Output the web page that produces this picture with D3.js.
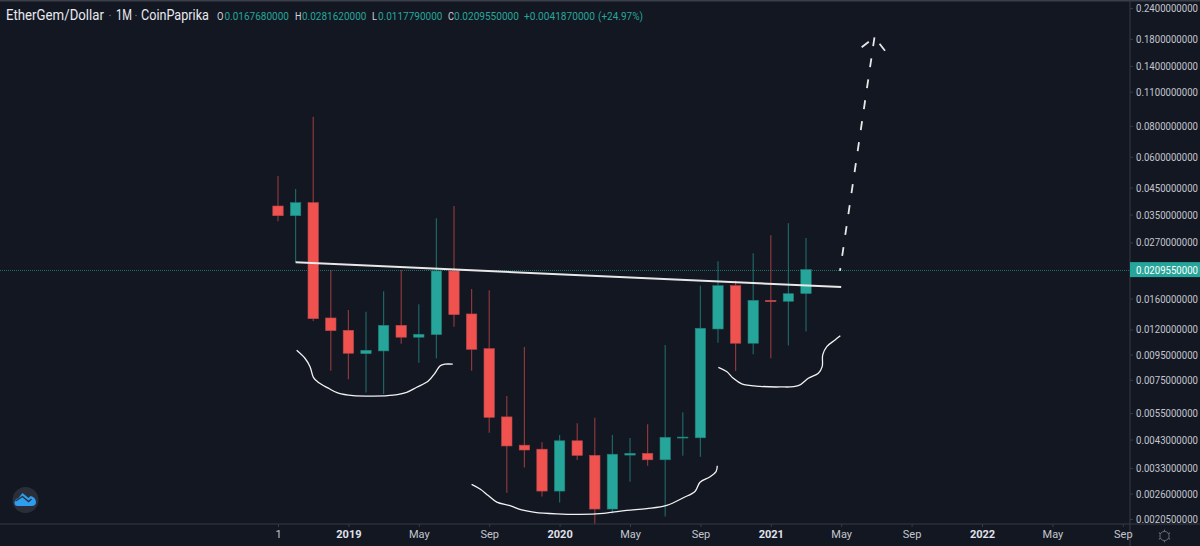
<!DOCTYPE html>
<html>
<head>
<meta charset="utf-8">
<script src="https://cdnjs.cloudflare.com/ajax/libs/d3/7.8.5/d3.min.js"></script>
<style>
html, body { margin: 0; padding: 0; background: #131722; overflow: hidden; }
svg { display: block; font-family: Roboto, sans-serif; }
</style>
</head>
<body>
<div id="plotDiv"></div>
<script>
// monthly candles, Sep 2018 to Mar 2021
var months = ["2018-09","2018-10","2018-11","2018-12","2019-01","2019-02","2019-03","2019-04","2019-05","2019-06","2019-07",
    "2019-08","2019-09","2019-10","2019-11","2019-12","2020-01","2020-02","2020-03","2020-04","2020-05","2020-06","2020-07",
    "2020-08","2020-09","2020-10","2020-11","2020-12","2021-01","2021-02","2021-03"];
var opens = [.03791,.03463,.03910,.01335,.01190,.00957,.00982,.01247,.01116,.01143,.02069,.01386,.01003,.00531,.00408,.00393,
    .00266,.00425,.00371,.00225,.00372,.00378,.00356,.00436,.00437,.01205,.01804,.01055,.01574,.01560,.016768];
var highs = [.05014,.04442,.08716,.02088,.01438,.01416,.01712,.02088,.01517,.03381,.03791,.01749,.01728,.00645,.01019,.00419,
    .00449,.00500,.00527,.00449,.00436,.00496,.01038,.00554,.01804,.02264,.01890,.02440,.02885,.03226,.028162];
var lows = [.03287,.02243,.01298,.00817,.00754,.00666,.00658,.01051,.00880,.00917,.01231,.00817,.00458,.00262,.00331,.00253,
    .00239,.00355,.00196,.00216,.00290,.00337,.00210,.00370,.00366,.01061,.00815,.00952,.00917,.01032,.011779];
var closes = [.03463,.03910,.01326,.01186,.00961,.00988,.01247,.01116,.01147,.02069,.01377,.00997,.00529,.00405,.00390,.00266,
    .00425,.00371,.00225,.00375,.00378,.00356,.00439,.00440,.01213,.01804,.01055,.01574,.01554,.01674,.020955];

var lastPrice = 0.020955;

var priceTicks = [0.24,0.18,0.14,0.11,0.08,0.06,0.045,0.035,0.027,0.016,0.012,0.0095,0.0075,0.0055,0.0043,0.0033,0.0026,0.00205];
var timeTicks = [0,4,8,12,16,20,24,28,32,36,40,44,48];
var timeLabels = ["1","2019","May","Sep","2020","May","Sep","2021","May","Sep","2022","May","Sep"];

// drawings on top of the chart, [month index, price]
var trendLine = [[1,.02243],[32,.01782]];
var leftCurve = [[1.06,.00988],[1.53,.00917],[1.82,.00848],[2.01,.00768],[2.30,.00731],[2.86,.00694],[3.43,.00662],[4.28,.00647],
    [5.41,.00645],[6.55,.00651],[7.31,.00668],[7.88,.00700],[8.54,.00742],[8.92,.00798],[9.20,.00854],[9.49,.00868],[9.93,.00868]];
var midCurve = [[11,.00283],[11.48,.00271],[11.95,.00255],[12.43,.00240],[13.18,.00232],[13.85,.00223],[14.6,.00218],[15.84,.00215],
    [17.16,.00214],[18.48,.00216],[19.81,.00222],[20.95,.00226],[22.09,.00233],[23.03,.00250],[23.69,.00265],[23.98,.00289],
    [24.55,.00304],[24.89,.00319],[24.96,.00337]];
var rightCurve = [[25.02,.00843],[25.49,.00810],[25.87,.00761],[26.35,.00722],[27.39,.00706],[28.52,.00702],[29.56,.00710],
    [30.13,.00761],[30.70,.00798],[30.92,.00848],[30.95,.00946],[31.18,.01022],[31.65,.01088],[31.95,.01132]];
var projection = [[33.89,.1826],[31.93,.02069]];
var arrowLeft = [[33.89,.1826],[33.16,.1664]];
var arrowRight = [[33.89,.1826],[34.49,.1612]];

// legend pieces: text, left edge, width
var legendText = ["EtherGem/Dollar","1M","CoinPaprika","O","0.0167680000","H","0.0281620000","L","0.0117790000","C","0.0209550000","+0.0041870000","(+24.97%)"];
var legendX = [6,116,141,217,224.5,295,302,372,378,448,454,524,598];
var legendW = [98,16,68,6.5,64.5,6.5,64.5,5,64.5,6,65,71,45];

window.addEventListener("load", makeChart);

// squeeze a text to a given width, the chart's own font is narrower than Roboto
function squeeze(sel, tx, ty, w) {
    var sx = w / sel.node().getComputedTextLength();
    sel.attr("x", 0).attr("transform", "translate(" + tx + "," + ty + ") scale(" + sx + ",1)");
}

function makeChart() {
    var width = 1200, height = 546;
    var axisX = 1130, axisY = 524;
    var upColor = "#26a69a", downColor = "#f0524f";
    var gridColor = "#363a45", textColor = "#c3c6ce";

    var svg = d3.select("#plotDiv").append("svg")
        .attr("width", width)
        .attr("height", height);

    svg.append("rect").attr("width", width).attr("height", height).attr("fill", "#131722");
    svg.append("rect").attr("width", width).attr("height", 1.5).attr("fill", "#3a3e49");

    var x = d3.scaleLinear().domain([0, 48]).range([278, 1122.8]);
    var y = d3.scaleLog().domain([0.24, 0.0024]).range([8, 502.1]);

    svg.append("defs").append("clipPath").attr("id", "plotClip")
        .append("rect").attr("width", axisX).attr("height", axisY);

    var plot = svg.append("g").attr("clip-path", "url(#plotClip)");

    // last price line
    plot.append("line")
        .attr("x1", 0).attr("x2", axisX)
        .attr("y1", Math.round(y(lastPrice)) + 0.5).attr("y2", Math.round(y(lastPrice)) + 0.5)
        .attr("stroke", upColor).attr("stroke-width", 1)
        .attr("stroke-opacity", 0.6)
        .attr("stroke-dasharray", "1 1");

    var isUp = function(i) { return closes[i] >= opens[i]; };
    var idx = d3.range(months.length);

    plot.append("g").selectAll("line").data(idx).enter().append("line")
        .attr("x1", function(i) { return x(i); })
        .attr("x2", function(i) { return x(i); })
        .attr("y1", function(i) { return y(highs[i]); })
        .attr("y2", function(i) { return y(lows[i]); })
        .attr("stroke", function(i) { return isUp(i) ? upColor : downColor; })
        .attr("stroke-opacity", 0.55)
        .attr("stroke-width", 1.2);

    var bodyW = 10.4;
    plot.append("g").selectAll("rect").data(idx).enter().append("rect")
        .attr("x", function(i) { return x(i) - bodyW / 2; })
        .attr("width", bodyW)
        .attr("y", function(i) { return y(Math.max(opens[i], closes[i])); })
        .attr("height", function(i) { return Math.abs(y(opens[i]) - y(closes[i])); })
        .attr("fill", function(i) { return isUp(i) ? upColor : downColor; })
        .attr("stroke", function(i) { return isUp(i) ? "#1f7f78" : "#b8474a"; })
        .attr("stroke-width", 0.6);

    // hand drawn marks
    var straight = d3.line().x(function(d) { return x(d[0]); }).y(function(d) { return y(d[1]); });
    var smooth = d3.line().x(function(d) { return x(d[0]); }).y(function(d) { return y(d[1]); }).curve(d3.curveCatmullRom);

    plot.append("path").attr("d", straight(trendLine))
        .attr("fill", "none").attr("stroke", "#e8e8e8").attr("stroke-width", 2);

    [leftCurve, midCurve, rightCurve].forEach(function(c) {
        plot.append("path").attr("d", smooth(c))
            .attr("fill", "none").attr("stroke", "#f2f2f2").attr("stroke-width", 1.3);
    });

    plot.append("path").attr("d", straight(projection))
        .attr("fill", "none").attr("stroke", "#e8e8e8").attr("stroke-width", 1.8)
        .attr("stroke-dasharray", "9 12.2");
    plot.append("path").attr("d", straight(arrowLeft))
        .attr("fill", "none").attr("stroke", "#e8e8e8").attr("stroke-width", 1.8)
        .attr("stroke-dasharray", "0 7.2 9 100");
    plot.append("path").attr("d", straight(arrowRight))
        .attr("fill", "none").attr("stroke", "#e8e8e8").attr("stroke-width", 1.8)
        .attr("stroke-dasharray", "0 8.2 9 100");

    // price axis
    var yAxis = d3.axisRight(y)
        .tickValues(priceTicks)
        .tickFormat(d3.format(".10f"))
        .tickSizeInner(3)
        .tickSizeOuter(0)
        .tickPadding(3);
    var yG = svg.append("g").attr("transform", "translate(" + axisX + ",0)").call(yAxis);
    yG.select(".domain").remove();
    yG.selectAll("line").attr("stroke", gridColor);
    yG.selectAll("text")
        .attr("fill", textColor)
        .attr("font-size", 11)
        .attr("font-family", "Roboto, sans-serif")
        .each(function() { squeeze(d3.select(this), 6, 0, 62); });

    svg.append("line").attr("x1", axisX).attr("x2", axisX).attr("y1", 0).attr("y2", height).attr("stroke", gridColor);
    svg.append("line").attr("x1", 0).attr("x2", width).attr("y1", axisY).attr("y2", axisY).attr("stroke", gridColor);

    // last price tag
    svg.append("rect")
        .attr("x", axisX).attr("y", y(lastPrice) - 7.5)
        .attr("width", width - axisX).attr("height", 15)
        .attr("fill", upColor);
    svg.append("text")
        .attr("fill", "#ffffff").attr("font-size", 11)
        .text(d3.format(".10f")(lastPrice))
        .call(squeeze, 1136, y(lastPrice) + 4, 62);

    // time axis
    var xAxis = d3.axisBottom(x)
        .tickValues(timeTicks)
        .tickFormat(function(d, i) { return timeLabels[i]; })
        .tickSizeInner(3)
        .tickSizeOuter(0)
        .tickPadding(3);
    var xG = svg.append("g").attr("transform", "translate(0," + axisY + ")").call(xAxis);
    xG.select(".domain").remove();
    xG.selectAll("line").attr("stroke", gridColor);
    xG.selectAll("text")
        .attr("fill", function(d, i) { return /^\d{4}$/.test(timeLabels[i]) ? "#e0e3eb" : textColor; })
        .attr("font-weight", function(d, i) { return /^\d{4}$/.test(timeLabels[i]) ? 700 : 400; })
        .attr("font-size", 11)
        .attr("font-family", "Roboto, sans-serif");

    // legend
    svg.append("g").selectAll("text").data(legendText).enter().append("text")
        .attr("font-size", function(d, i) { return i < 3 ? 14 : 11.5; })
        .attr("fill", function(d, i) {
            if (i < 3) return "#e8eaf0";
            return /^[OHLC]$/.test(d) ? "#d1d4dc" : upColor;
        })
        .text(function(d) { return d; })
        .each(function(d, i) { squeeze(d3.select(this), legendX[i], 20, legendW[i]); });
    [110, 136].forEach(function(cx) {
        svg.append("circle").attr("cx", cx).attr("cy", 15.5).attr("r", 0.8).attr("fill", "#6a6d78");
    });

    // corner logo
    var logo = svg.append("g").attr("transform", "translate(25.5,500)");
    logo.append("circle").attr("r", 13).attr("fill", "#2a2e39");
    logo.append("path")
        .attr("d", "M-11,3 Q-11,-1 -7,-2 L-3,-7 L3,-2 L5,-4 Q10,-3 10.5,2 Q10.5,6 6,6 L-8,6 Q-11,6 -11,3 Z")
        .attr("fill", "#2e9df0");
    logo.append("path")
        .attr("d", "M-10,1 L-3,-3.5 L3,1.5 L6,-1")
        .attr("fill", "none").attr("stroke", "#2a2e39").attr("stroke-width", 1.4);

    // settings gear
    var gear = svg.append("g").attr("transform", "translate(1164.5,536)");
    gear.append("circle").attr("r", 4.6).attr("fill", "none").attr("stroke", "#6a6d78").attr("stroke-width", 1);
    gear.selectAll("line").data(d3.range(6)).enter().append("line")
        .attr("y1", -4.6).attr("y2", -6.4)
        .attr("transform", function(d) { return "rotate(" + d * 60 + ")"; })
        .attr("stroke", "#6a6d78").attr("stroke-width", 1);
}
</script>
</body>
</html>
